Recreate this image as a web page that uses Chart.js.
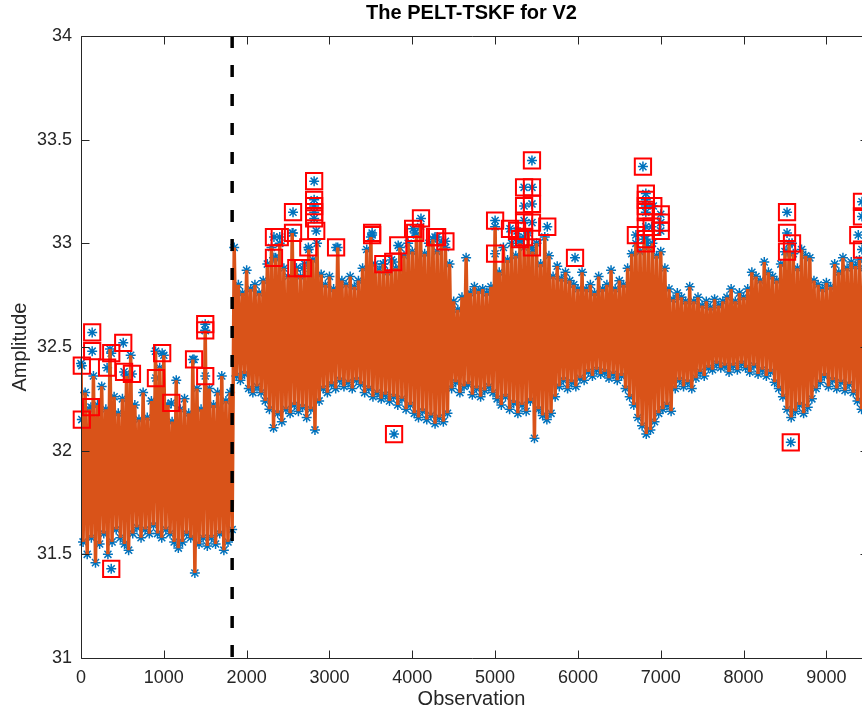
<!DOCTYPE html>
<html>
<head>
<meta charset="utf-8">
<title>The PELT-TSKF for V2</title>
<script src="https://cdn.jsdelivr.net/npm/chart.js@4.4.1/dist/chart.umd.min.js"></script>
<style>
  html, body { margin: 0; padding: 0; overflow: hidden; background: #fff; }
  canvas { display: block; }
</style>
</head>
<body>
<canvas id="pelt" width="862" height="711"></canvas>
<script>
// Raw series: local maxima at 0, 50, 100 ... and local minima half a step later
const sampleStep = 50;
const upperEnvelope = [
  32.42, 32.28, 32.20, 32.36, 32.22, 32.31, 32.20, 32.49, 32.26, 32.18,
  32.25, 32.36, 32.46, 32.22, 32.15, 32.28, 32.16, 32.24, 32.48, 32.40,
  32.46, 32.22, 32.14, 32.34, 32.20, 32.25, 32.18, 32.44, 32.30, 32.20,
  32.58, 32.30, 32.22, 32.28, 32.36, 32.24, 32.28, 32.98, 32.80, 32.76,
  32.87, 32.78, 32.80, 32.76, 32.82, 32.90, 32.98, 32.93, 33.00, 32.88,
  32.84, 33.05, 32.88, 32.84, 32.90, 32.97, 32.92, 33.00, 32.85, 32.80,
  32.84, 32.78, 32.98, 32.82, 32.80, 32.84, 32.79, 32.82, 32.88, 32.97,
  33.03, 32.90, 32.87, 32.90, 32.86, 32.92, 32.88, 32.98, 32.94, 33.00,
  32.96, 33.04, 33.08, 32.95, 33.00, 33.02, 32.96, 33.00, 32.98, 32.90,
  32.72, 32.68, 32.74, 32.93, 32.76, 32.79, 32.77, 32.78, 32.76, 32.79,
  33.08, 32.86, 32.98, 32.92, 33.00, 32.94, 33.00, 32.98, 33.05, 32.96,
  33.00, 32.90, 33.03, 32.94, 32.84, 32.89, 32.83, 32.86, 32.82, 32.80,
  32.78, 32.86, 32.78, 32.80, 32.76, 32.84, 32.78, 32.80, 32.87, 32.78,
  32.82, 32.80, 32.88, 32.95, 33.00, 32.96, 33.02, 32.98, 33.00, 32.94,
  32.96, 32.88, 32.78, 32.73, 32.76, 32.74, 32.72, 32.79, 32.72, 32.74,
  32.70, 32.72, 32.69, 32.73, 32.70, 32.72, 32.74, 32.78, 32.72, 32.76,
  32.74, 32.78, 32.86, 32.84, 32.82, 32.91, 32.86, 32.84, 32.82, 32.90,
  32.96, 33.00, 32.95, 32.88, 32.97, 32.94, 32.93, 32.82, 32.80, 32.78,
  32.81, 32.79, 32.90, 32.86, 32.93, 32.88, 32.91, 32.89, 32.92, 32.88
];
const lowerEnvelope = [
  31.56, 31.50, 31.58, 31.46, 31.55, 31.60, 31.50, 31.56, 31.62, 31.58,
  31.55, 31.52, 31.60, 31.63, 31.58, 31.62, 31.60, 31.64, 31.60, 31.58,
  31.62, 31.60, 31.56, 31.53, 31.56, 31.60, 31.58, 31.41, 31.55, 31.58,
  31.54, 31.58, 31.55, 31.60, 31.52, 31.56, 31.62, 32.36, 32.34, 32.37,
  32.30, 32.28, 32.31, 32.28, 32.24, 32.20, 32.11, 32.18, 32.14, 32.20,
  32.18, 32.22, 32.19, 32.21, 32.16, 32.20, 32.10, 32.24, 32.30, 32.28,
  32.32, 32.30, 32.34, 32.31, 32.33, 32.30, 32.34, 32.32, 32.28, 32.30,
  32.26, 32.28, 32.25, 32.27, 32.24, 32.26, 32.22, 32.25, 32.20, 32.22,
  32.18, 32.16, 32.19, 32.15, 32.17, 32.13, 32.16, 32.14, 32.18, 32.30,
  32.33, 32.28, 32.31, 32.32, 32.27, 32.30, 32.26, 32.29, 32.31, 32.28,
  32.25, 32.22, 32.26, 32.20, 32.23, 32.18, 32.22, 32.19, 32.24, 32.06,
  32.20, 32.17, 32.15, 32.18, 32.26, 32.31, 32.34, 32.30, 32.33, 32.31,
  32.35, 32.34, 32.38, 32.36, 32.39, 32.37, 32.38, 32.35, 32.37, 32.34,
  32.36, 32.30, 32.26, 32.22, 32.16, 32.12, 32.08, 32.10, 32.14, 32.18,
  32.20, 32.22, 32.19, 32.30, 32.34, 32.31, 32.33, 32.30, 32.35, 32.38,
  32.36, 32.40, 32.39, 32.42, 32.40, 32.41, 32.38, 32.41, 32.39, 32.42,
  32.40, 32.38, 32.41, 32.37, 32.39, 32.36, 32.38, 32.33, 32.30, 32.26,
  32.20, 32.16, 32.19, 32.22, 32.18, 32.21, 32.25, 32.30, 32.33, 32.36,
  32.31, 32.34, 32.30, 32.33, 32.29, 32.32, 32.28, 32.24, 32.20, 32.22
];

// Points flagged as outliers by the filter
const outlierObs = [
  10, 10, 120, 135, 135, 315, 365, 365, 510, 520, 615, 905, 980, 1090, 1365, 1500, 1500, 1500,
  2815, 2815, 2815, 2815, 2815, 2560, 2560, 2840, 2330, 2400, 2330, 2745, 2600, 2680, 3080,
  3515, 3515, 3650, 3770, 3830, 3780, 4010, 4105, 4035, 4275, 4300, 4400,
  5445, 5350, 5445, 5350, 5445, 5000, 5000, 5180, 5265, 5350, 5445, 5630, 5300, 5445, 5350,
  5965, 6785, 6820, 6820, 6820, 6820, 6910, 7000, 7000, 7000, 6820, 6700, 6820, 6820, 6890,
  8525, 8525, 8525, 8585, 8570, 9385, 9430, 9430, 9430
];
const outlierAmp = [
  32.41, 32.15, 32.21, 32.57, 32.48, 32.40, 32.47, 31.43, 32.52, 32.38, 32.37, 32.35, 32.47, 32.23, 32.44, 32.61, 32.58, 32.36,
  33.30, 33.21, 33.18, 33.15, 33.12, 33.15, 33.05, 33.06, 33.03, 33.03, 32.93, 32.98, 32.88, 32.88, 32.98,
  33.05, 33.04, 32.90, 32.91, 32.99, 32.08, 33.07, 33.12, 33.05, 33.03, 33.03, 33.01,
  33.40, 33.27, 33.27, 33.18, 33.19, 33.11, 32.95, 33.07, 33.06, 33.11, 33.10, 33.08, 33.02, 32.98, 33.03,
  32.93, 33.37, 33.24, 33.21, 33.18, 33.15, 33.18, 33.14, 33.10, 33.06, 33.08, 33.04, 33.02, 33.00, 33.08,
  33.15, 33.05, 32.96, 33.00, 32.04, 33.04, 33.20, 33.13, 32.97
];

// Detected change point
const changePoint = 1825;

// the axes run to 9500, the figure is cut a little before that
const xAxisEnd = 9500;
const xVisible = [0, 9430];
const yRange = [31, 34];
const xTickValues = [0, 1000, 2000, 3000, 4000, 5000, 6000, 7000, 8000, 9000];
const yTickValues = [31, 31.5, 32, 32.5, 33, 33.5, 34];

const blue = '#0072BD';
const orange = '#D95319';
const axisColor = '#262626';
const font = 'Liberation Sans, Arial, Helvetica, sans-serif';

// zig-zag between the local maxima and minima
const series = [];
upperEnvelope.forEach((v, i) => {
  series.push({ x: i * sampleStep, y: v });
  series.push({ x: i * sampleStep + sampleStep / 2, y: lowerEnvelope[i] });
});
const outliers = outlierObs.map((x, i) => ({ x: x, y: outlierAmp[i] }));

// box around the axes with inward tick marks
const axesBox = {
  id: 'axesBox',
  afterDraw(chart) {
    const { ctx, chartArea: a, scales } = chart;
    const L = Math.round(a.left) + 0.5;
    const R = Math.round(scales.x.getPixelForValue(xAxisEnd)) + 0.5;
    const T = Math.round(a.top) + 0.5, B = Math.round(a.bottom) + 0.5;
    ctx.save();
    ctx.strokeStyle = axisColor;
    ctx.lineWidth = 1;
    ctx.beginPath();
    ctx.rect(L, T, R - L, B - T);
    scales.x.ticks.forEach(t => {
      const px = Math.round(scales.x.getPixelForValue(t.value)) + 0.5;
      ctx.moveTo(px, B); ctx.lineTo(px, B - 8);
      ctx.moveTo(px, T); ctx.lineTo(px, T + 8);
    });
    scales.y.ticks.forEach(t => {
      const py = Math.round(scales.y.getPixelForValue(t.value)) + 0.5;
      ctx.moveTo(L, py); ctx.lineTo(L + 8, py);
      ctx.moveTo(R, py); ctx.lineTo(R - 8, py);
    });
    ctx.stroke();
    ctx.restore();
  }
};

new Chart(document.getElementById('pelt'), {
  type: 'scatter',
  data: {
    datasets: [
      {
        label: 'Outliers',
        data: outliers,
        order: 0,
        pointStyle: 'rect',
        pointRadius: 11.5,
        borderColor: '#ff0000',
        backgroundColor: 'rgba(0,0,0,0)',
        borderWidth: 2,
        clip: false
      },
      {
        label: 'Change point',
        data: [{ x: changePoint, y: yRange[1] }, { x: changePoint, y: yRange[0] }],
        order: 1,
        showLine: true,
        pointRadius: 0,
        borderColor: '#000',
        borderWidth: 3.5,
        borderDash: [12, 17]
      },
      {
        label: 'PELT-TSKF',
        data: series,
        order: 2,
        showLine: true,
        pointRadius: 0,
        borderColor: orange,
        borderWidth: 3.5,
        tension: 0
      },
      {
        label: 'Observed',
        data: series.concat(outliers),
        order: 3,
        pointStyle: 'star',
        pointRadius: 5,
        borderColor: blue,
        borderWidth: 1.5,
        clip: false
      }
    ]
  },
  options: {
    responsive: false,
    animation: false,
    events: [],
    layout: { autoPadding: false, padding: 0 },
    plugins: {
      legend: { display: false },
      tooltip: { enabled: false },
      title: {
        display: true,
        fullSize: false,
        text: 'The PELT-TSKF for V2',
        color: '#000',
        font: { family: font, size: 20, weight: 'bold' },
        padding: { top: 1.5, bottom: 10.5 }
      }
    },
    scales: {
      x: {
        type: 'linear',
        min: xVisible[0],
        max: xVisible[1],
        grid: { display: false, drawTicks: false },
        border: { display: false },
        afterBuildTicks: s => { s.ticks = xTickValues.map(v => ({ value: v })); },
        ticks: {
          padding: 9,
          color: axisColor,
          font: { family: font, size: 18 },
          callback: v => String(v)
        },
        title: {
          display: true,
          text: 'Observation',
          color: axisColor,
          font: { family: font, size: 20 },
          padding: { top: 0, bottom: 0 }
        },
        afterFit: s => { s.height = 53; s.paddingLeft = 0; s.paddingRight = 0; }
      },
      y: {
        type: 'linear',
        min: yRange[0],
        max: yRange[1],
        grid: { display: false, drawTicks: false },
        border: { display: false },
        afterBuildTicks: s => { s.ticks = yTickValues.map(v => ({ value: v })); },
        ticks: {
          padding: 9,
          color: axisColor,
          font: { family: font, size: 18 },
          callback: v => String(v)
        },
        title: {
          display: true,
          text: 'Amplitude',
          color: axisColor,
          font: { family: font, size: 20 },
          padding: { top: 8, bottom: 0 }
        },
        afterFit: s => { s.width = 81; }
      }
    }
  },
  plugins: [axesBox]
});
</script>
</body>
</html>
